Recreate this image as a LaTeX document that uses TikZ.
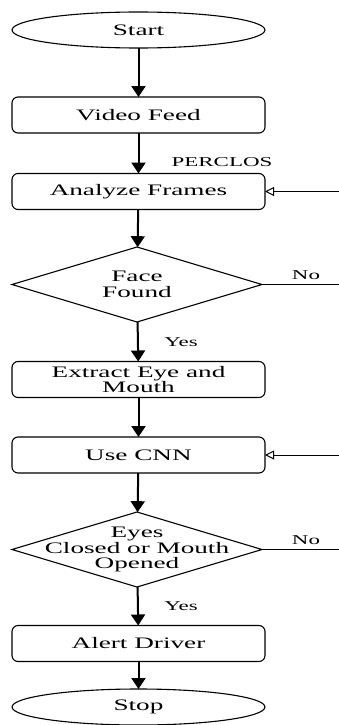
\documentclass[tikz,border=0pt]{standalone}
\usepackage{fontspec}
\setmainfont{Liberation Serif}[FakeStretch=1.7]
\usetikzlibrary{shapes.geometric,arrows.meta}
\tikzset{
  base/.style={draw,line width=1.1pt,outer sep=0pt,font=\fontsize{16}{15.5}\selectfont,align=center},
  terminal/.style={base,ellipse,minimum width=253pt,minimum height=36pt,inner sep=0pt},
  stepbox/.style={base,rectangle,rounded corners=6pt,minimum width=253pt,minimum height=36pt,inner sep=0pt},
  decision/.style={base,diamond,minimum width=250pt,minimum height=75pt,inner sep=0pt},
  dtext/.style={font=\fontsize{16}{15.5}\selectfont,align=center},
  flow/.style={line width=2pt,-{Triangle[length=11pt,width=14pt]}},
  back/.style={line width=1pt},
  tag/.style={font=\fontsize{13.5}{15}\selectfont,inner sep=0pt}
}
\begin{document}
\begin{tikzpicture}[x=1pt,y=-1pt]
        \def\cx{138.5}
        \def\rx{339}
        \useasboundingbox (0,0) rectangle (339,725);
        %% terminals
        \node[terminal] (start) at (\cx,30) {Start};
        \node[terminal] (stop) at (\cx,707) {Stop};
        %% process boxes
        \foreach \n/\y/\t in {video/115/Video Feed,analyze/191.5/Analyze Frames,extract/379.5/{Extract Eye and\\Mouth},cnn/455/Use CNN,alert/643.5/Alert Driver}
            \node[stepbox] (\n) at (\cx,\y) {\t};
        %% decisions
        \node[decision,label={[dtext]center:{Face\\Found}}] (face) at (137,284.5) {};
        \node[decision,label={[dtext]center:{Eyes\\Closed or Mouth\\Opened}}] (eyes) at (137,549.5) {};
        %% main flow
        \foreach \u/\v in {start/video,video/analyze,analyze/face,face/extract,extract/cnn,cnn/eyes,eyes/alert,alert/stop}
            \draw[flow] (\u) -- (\v);
        %% loops back from the right
        \coordinate (faceout) at (\rx,284.5);
        \coordinate (eyesout) at (\rx,549.5);
        \coordinate (analyzein) at (\rx,191.5);
        \coordinate (cnnin) at (\rx,455);
        \draw[back] (face.east) -- (faceout);
        \draw[back] (eyes.east) -- (eyesout);
        \draw[back,-{Triangle[open,length=9pt,width=9pt]}] (analyzein) -- (analyze.east);
        \draw[back,-{Triangle[open,length=9pt,width=9pt]}] (cnnin) -- (cnn.east);
        %% labels
        \node[tag] (perclos) at (222,162) {PERCLOS};
        \node[tag] (no1) at (306,275) {No};
        \node[tag] (yes1) at (181,342) {Yes};
        \node[tag] (no2) at (306,540) {No};
        \node[tag] (yes2) at (181,606) {Yes};
    \end{tikzpicture}
\end{document}
